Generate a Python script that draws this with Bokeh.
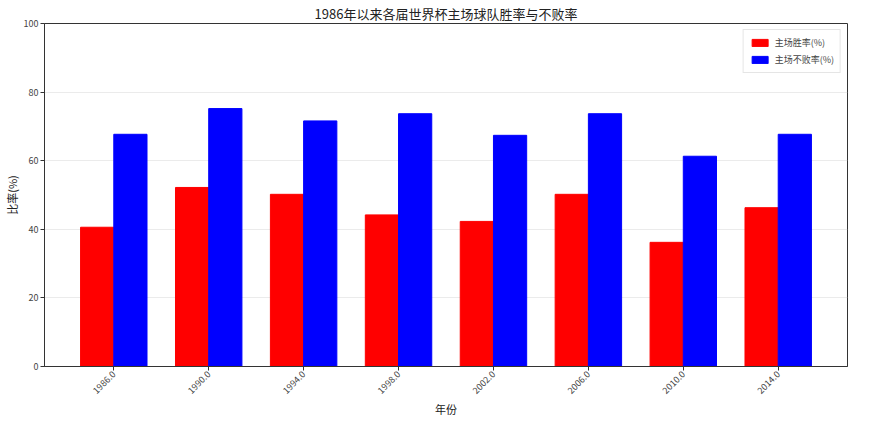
import math
from bokeh.plotting import figure
from bokeh.models import FixedTicker, Range1d, Legend, LegendItem
from bokeh.embed import file_html
from bokeh.resources import INLINE

years = ["1986.0", "1990.0", "1994.0", "1998.0", "2002.0", "2006.0", "2010.0", "2014.0"]
win_rate = [40.6, 52.2, 50.2, 44.2, 42.3, 50.2, 36.2, 46.3]
unbeaten_rate = [67.7, 75.2, 71.6, 73.7, 67.4, 73.7, 61.3, 67.7]
y_ticks = [0, 20, 40, 60, 80, 100]

FONT = "Noto Sans CJK SC"
bar_w = 0.35
idx = list(range(len(years)))
x_red = [i - bar_w / 2 for i in idx]
x_blue = [i + bar_w / 2 for i in idx]

p = figure(frame_width=803, frame_height=343, output_backend="svg", toolbar_location=None,
           x_range=Range1d(-0.73, len(years) - 1 + 0.73), y_range=Range1d(0, 100),
           min_border_left=37, min_border_right=18, min_border_top=0, min_border_bottom=50)

p.title.text = "1986年以来各届世界杯主场球队胜率与不败率"
p.title.align = "center"
p.title.text_font = FONT
p.title.text_font_size = "13px"
p.title.text_font_style = "normal"
p.title.text_color = "#222222"
p.title.standoff = 2

r1 = p.vbar(x=x_red, top=win_rate, width=bar_w, bottom=0, fill_color="red", line_color="red")
r2 = p.vbar(x=x_blue, top=unbeaten_rate, width=bar_w, bottom=0, fill_color="blue", line_color="blue")

legend = Legend(items=[LegendItem(label="主场胜率(%)", renderers=[r1]),
                       LegendItem(label="主场不败率(%)", renderers=[r2])],
                location="top_right")
legend.label_text_font = FONT
legend.label_text_font_size = "9px"
legend.glyph_width = 20
legend.glyph_height = 9
legend.label_height = 10
legend.spacing = 4
legend.padding = 6
legend.margin = 6
legend.border_line_color = "#cccccc"
legend.border_line_width = 1
legend.background_fill_alpha = 0.9
p.add_layout(legend)

p.xaxis.ticker = FixedTicker(ticks=idx)
p.xaxis.major_label_overrides = {i: years[i] for i in idx}
p.xaxis.major_label_orientation = math.pi / 4
p.yaxis.ticker = FixedTicker(ticks=y_ticks)

p.xaxis.axis_label = "年份"
p.yaxis.axis_label = "比率(%)"
for ax in (p.xaxis, p.yaxis):
    ax.axis_label_text_font = FONT
    ax.axis_label_text_font_size = "11px"
    ax.axis_label_text_font_style = "normal"
    ax.axis_label_text_color = "#222222"
    ax.major_label_text_font = FONT
    ax.major_label_text_font_size = "9px"
    ax.major_label_text_color = "#444444"
    ax.minor_tick_line_color = None
    ax.major_tick_out = 4
    ax.major_tick_in = 0
    ax.axis_line_color = "#333333"
    ax.major_tick_line_color = "#333333"
    ax.major_label_standoff = 2
    ax.axis_label_standoff = 1

p.xgrid.grid_line_color = None
p.ygrid.grid_line_color = "#dddddd"
p.ygrid.grid_line_alpha = 0.6
p.outline_line_color = "#333333"
p.outline_line_width = 1
p.outline_line_alpha = 1

open("out.html", "w").write(file_html(p, INLINE))
